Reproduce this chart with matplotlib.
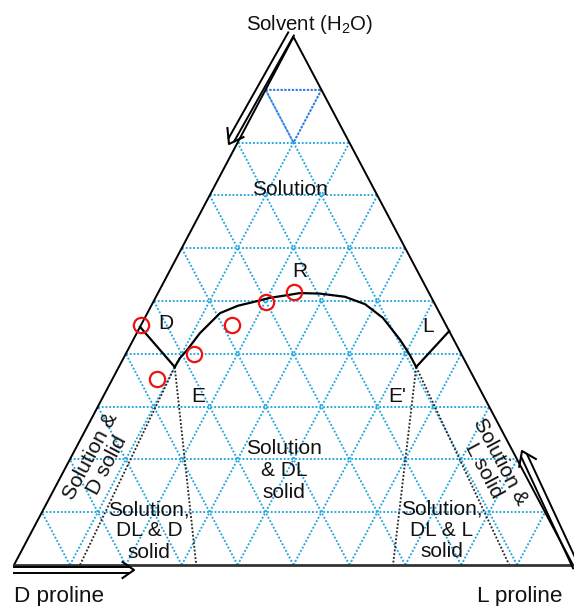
import matplotlib.pyplot as plt
import numpy as np

plt.rcParams['font.family'] = ['Liberation Sans', 'DejaVu Sans']
plt.rcParams['mathtext.fontset'] = 'custom'
plt.rcParams['mathtext.rm'] = 'Liberation Sans'

# compositions are (L proline fraction, solvent fraction); D proline = rest
curve_L = [0.100, 0.101, 0.106, 0.113, 0.130, 0.155, 0.179, 0.205, 0.233, 0.254,
           0.290, 0.338, 0.381, 0.426, 0.478, 0.509, 0.532]
curve_S = [0.375, 0.392, 0.407, 0.439, 0.477, 0.491, 0.498, 0.506, 0.511, 0.515,
           0.514, 0.508, 0.494, 0.468, 0.426, 0.398, 0.375]
point_E = (0.100, 0.375)
point_E2 = (0.532, 0.375)
edge_D = (0.0, 0.451)
edge_L = (0.557, 0.443)
feet_E = [0.118, 0.326]    # where the dotted lines from E meet the base
feet_E2 = [0.678, 0.886]
exp_L = [0.0, 0.080, 0.122, 0.163, 0.202, 0.242]
exp_S = [0.455, 0.352, 0.400, 0.455, 0.498, 0.517]
n_div = 10

cyan = '#22A6E0'
blue = '#3B6FEA'


def tern(b, c):
    b = np.asarray(b, float)
    c = np.asarray(c, float)
    return b + 0.5 * c, c


def pix(x, y):
    # picture pixel -> data coords
    return (x - 14) / 559.0, (565 - y) / 528.0


fig = plt.figure(figsize=(5.74, 6.06), dpi=100)
ax = fig.add_axes([0, 0, 1, 1])
ax.set_xlim(-14 / 559.0, 560 / 559.0)
ax.set_ylim(-41 / 528.0, 565 / 528.0)
ax.axis('off')

# grid
dot = (0, (1, 1))
for k in range(1, n_div):
    f = k / n_div
    for pb, pc in [((0, 1 - f), (f, f)), ((1 - f, 0), (0, 1 - f)), ((f, f), (0, 1 - f))]:
        x, y = tern(pb, pc)
        ax.plot(x, y, color=cyan, lw=1.35, ls=dot, zorder=1)
x, y = tern([0, 0.1, 0.1, 0], [0.9, 0.9, 0.8, 0.9])
ax.plot(x, y, color=blue, lw=1.35, ls=dot, zorder=1.5)

# triangle
ax.plot([0, 0.5, 1], [0, 1, 0], color='black', lw=1.4, zorder=3)
ax.plot([0, 1], [0, 0], color='#333333', lw=2.0, zorder=3)

# phase boundaries
x, y = tern(curve_L, curve_S)
ax.plot(x, y, color='black', lw=1.6, zorder=3, solid_capstyle='round')
x, y = tern([edge_D[0], point_E[0]], [edge_D[1], point_E[1]])
ax.plot(x, y, color='black', lw=1.6, zorder=3)
x, y = tern([edge_L[0], point_E2[0]], [edge_L[1], point_E2[1]])
ax.plot(x, y, color='black', lw=1.6, zorder=3)
for pt, feet in [(point_E, feet_E), (point_E2, feet_E2)]:
    for fb in feet:
        x, y = tern([pt[0], fb], [pt[1], 0])
        ax.plot(x, y, color='#2a2a2a', lw=1.35, ls=dot, zorder=2)

# experimental points
x, y = tern(exp_L, exp_S)
ax.plot(x, y, 'o', ms=11, mfc='none', mec='#ee1111', mew=1.6, zorder=4)


def double_arrow(p0, p1, gap=3.2, head=16.0, ang=35.0):
    p0 = np.array(p0, float)
    p1 = np.array(p1, float)
    d = (p1 - p0) / np.hypot(*(p1 - p0))
    n = np.array([-d[1], d[0]])
    end = p1 - d * 5
    for s in (-gap, gap):
        a = p0 + n * s
        b = end + n * s
        xa, ya = pix(a[0], a[1])
        xb, yb = pix(b[0], b[1])
        ax.plot([xa, xb], [ya, yb], color='black', lw=1.4, zorder=3)
    back = -d
    pts = []
    for t in (ang, -ang):
        r = np.radians(t)
        v = np.array([back[0] * np.cos(r) - back[1] * np.sin(r),
                      back[0] * np.sin(r) + back[1] * np.cos(r)])
        pts.append(p1 + v * head)
    hx, hy = zip(*[pix(*pts[0]), pix(*p1), pix(*pts[1])])
    ax.plot(hx, hy, color='black', lw=1.5, zorder=3)


double_arrow((291, 34), (229, 144))
double_arrow((14, 570), (134, 570), head=14)
double_arrow((576, 567), (522, 451))

fs = 15
def label(px, py, s, size=fs, **kw):
    x, y = pix(px, py)
    kw.setdefault('ha', 'center')
    kw.setdefault('va', 'baseline')
    ax.text(x, y, s, fontsize=size, color='#111111', zorder=5, **kw)


label(310, 30, r'Solvent (H$_\mathrm{2}$O)', size=14.7)
label(290, 195, 'Solution')
label(300, 277, 'R')
label(166, 329, 'D')
label(428, 332, 'L')
label(198, 402, 'E')
label(397, 402, "E'")
label(14, 602, 'D proline', size=16.2, ha='left')
label(562, 602, 'L proline', size=16.2, ha='right')
label(284, 470, 'Solution\n& DL\nsolid', va='center', linespacing=1.2)
label(149, 531, 'Solution,\nDL & D\nsolid', va='center', linespacing=1.15)
label(442, 530, 'Solution,\nDL & L\nsolid', va='center', linespacing=1.15)
label(99, 461, 'Solution &\nD solid', va='center', rotation=62,
      rotation_mode='anchor', linespacing=1.0)
label(492, 466, 'Solution &\nL solid', va='center', rotation=-62,
      rotation_mode='anchor', linespacing=1.0)

fig.savefig('out.png', dpi=100, facecolor='white')
